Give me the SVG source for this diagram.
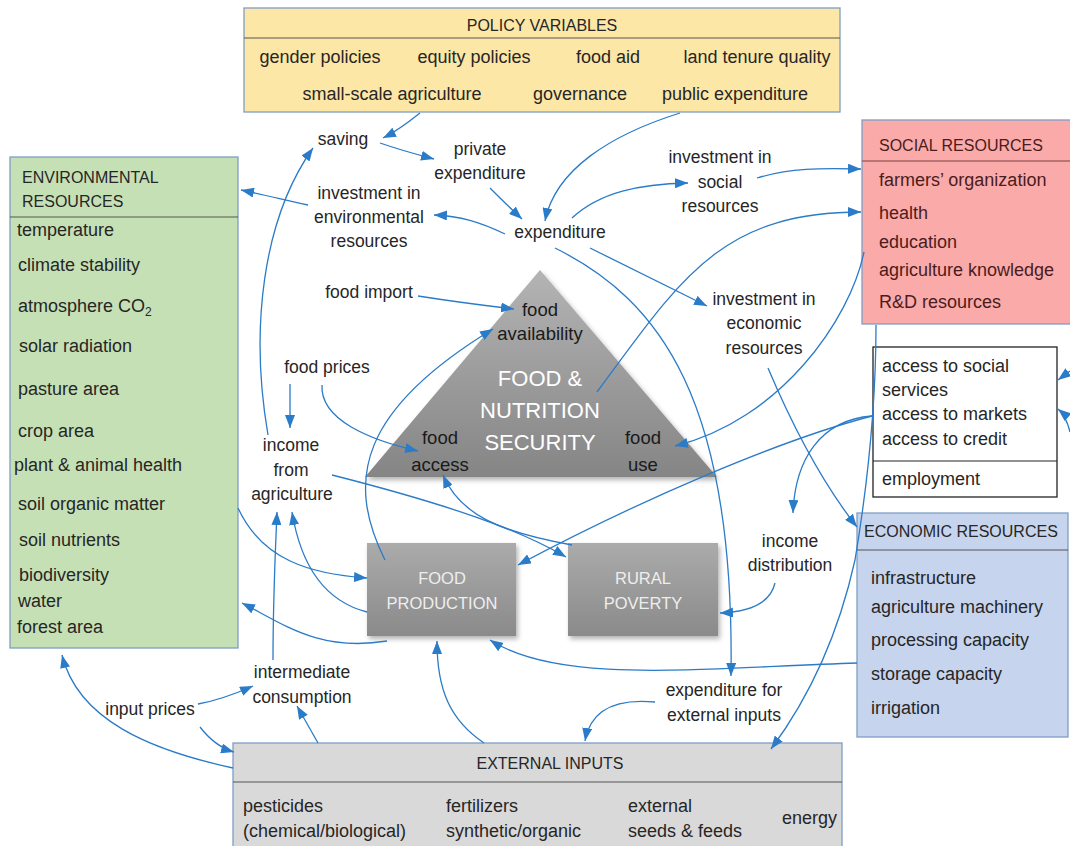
<svg xmlns="http://www.w3.org/2000/svg" width="1070" height="846" viewBox="0 0 1070 846">
<defs>
<style>
text{font-family:"Liberation Sans",Arial,sans-serif;fill:#262626}
.lbl{font-size:17.5px;text-anchor:middle}
.item{font-size:18px}
.hdr{font-size:16px}
.pol{font-size:18px;text-anchor:middle}
.soc{fill:#4a1c1c}
.white{fill:#ffffff;text-anchor:middle;font-size:22px}
.pw{fill:#eeeeee;text-anchor:middle;font-size:16.5px}
.dark{fill:#1a1a1a;text-anchor:middle;font-size:18.5px}
.box{stroke:#7f9dc6;stroke-width:1.3}
.sep{stroke:#555;stroke-width:1.2}
.conn path{fill:none;stroke:#2a7bc8;stroke-width:1.3;marker-end:url(#ah)}
</style>
<marker id="ah" markerUnits="userSpaceOnUse" markerWidth="14" markerHeight="10" refX="13" refY="5" orient="auto">
<path d="M0,0 L13,5 L0,10 z" fill="#2a7bc8"/>
</marker>
<linearGradient id="tri" x1="0" y1="0" x2="0" y2="1">
<stop offset="0" stop-color="#b4b4b4"/>
<stop offset="1" stop-color="#858585"/>
</linearGradient>
<linearGradient id="gbox" x1="0" y1="0" x2="0" y2="1">
<stop offset="0" stop-color="#ababab"/>
<stop offset="1" stop-color="#8a8a8a"/>
</linearGradient>
<filter id="sh" x="-10%" y="-10%" width="125%" height="125%">
<feDropShadow dx="2" dy="3" stdDeviation="2.5" flood-color="#000" flood-opacity="0.3"/>
</filter>
</defs>
<rect width="1070" height="846" fill="#ffffff"/>

<g id="policy-variables">
<rect x="244" y="8" width="596" height="104" fill="#fde7a7" class="box"/>
<line x1="244" y1="38" x2="840" y2="38" class="sep"/>
<text x="542" y="31" class="hdr" text-anchor="middle">POLICY VARIABLES</text>
<text x="320" y="63" class="pol">gender policies</text>
<text x="474" y="63" class="pol">equity policies</text>
<text x="608" y="63" class="pol">food aid</text>
<text x="757" y="63" class="pol">land tenure quality</text>
<text x="392" y="100" class="pol">small-scale agriculture</text>
<text x="580" y="100" class="pol">governance</text>
<text x="735" y="100" class="pol">public expenditure</text>
</g>

<g id="environmental-resources">
<rect x="10" y="157" width="228" height="491" fill="#c6e0b5" class="box"/>
<line x1="10" y1="217" x2="238" y2="217" class="sep"/>
<text x="22" y="183" class="hdr">ENVIRONMENTAL</text>
<text x="22" y="207" class="hdr">RESOURCES</text>
<text x="17" y="236" class="item">temperature</text>
<text x="18" y="271" class="item">climate stability</text>
<text x="18" y="312" class="item">atmosphere CO<tspan font-size="12" dy="4">2</tspan></text>
<text x="19" y="352" class="item">solar radiation</text>
<text x="18" y="395" class="item">pasture area</text>
<text x="18" y="437" class="item">crop area</text>
<text x="14" y="471" class="item">plant &amp; animal health</text>
<text x="18" y="510" class="item">soil organic matter</text>
<text x="19" y="546" class="item">soil nutrients</text>
<text x="19" y="581" class="item">biodiversity</text>
<text x="18" y="607" class="item">water</text>
<text x="17" y="633" class="item">forest area</text>
</g>

<g id="social-resources">
<rect x="862" y="120" width="212" height="204" fill="#fbaaaa" class="box"/>
<line x1="862" y1="161" x2="1070" y2="161" stroke="#7a4040" stroke-width="1.2"/>
<text x="879" y="151" class="hdr soc" font-size="15.5">SOCIAL RESOURCES</text>
<text x="879" y="186" class="item soc">farmers’ organization</text>
<text x="879" y="219" class="item soc">health</text>
<text x="879" y="248" class="item soc">education</text>
<text x="879" y="276" class="item soc">agriculture knowledge</text>
<text x="879" y="308" class="item soc">R&amp;D resources</text>
</g>

<g id="access">
<rect x="873" y="347" width="184" height="150" fill="#ffffff" stroke="#222" stroke-width="1.3"/>
<line x1="873" y1="461" x2="1057" y2="461" stroke="#222" stroke-width="1.2"/>
<text x="882" y="372" class="item" font-size="17">access to social</text>
<text x="882" y="396" class="item" font-size="17">services</text>
<text x="882" y="420" class="item" font-size="17">access to markets</text>
<text x="882" y="445" class="item" font-size="17">access to credit</text>
<text x="882" y="485" class="item" font-size="17">employment</text>
</g>

<g id="economic-resources">
<rect x="857" y="513" width="211" height="224" fill="#c7d4ed" class="box"/>
<line x1="857" y1="550" x2="1068" y2="550" class="sep"/>
<text x="864" y="537" class="hdr">ECONOMIC RESOURCES</text>
<text x="871" y="584" class="item">infrastructure</text>
<text x="871" y="613" class="item">agriculture machinery</text>
<text x="871" y="646" class="item">processing capacity</text>
<text x="871" y="680" class="item">storage capacity</text>
<text x="871" y="714" class="item">irrigation</text>
</g>

<g id="external-inputs">
<rect x="233" y="743" width="609" height="110" fill="#d9d9d9" class="box"/>
<line x1="233" y1="782" x2="842" y2="782" class="sep"/>
<text x="550" y="769" class="hdr" text-anchor="middle">EXTERNAL INPUTS</text>
<text x="243" y="812" class="item" font-size="17.5">pesticides</text>
<text x="243" y="837" class="item" font-size="17.5">(chemical/biological)</text>
<text x="446" y="812" class="item" font-size="17.5">fertilizers</text>
<text x="446" y="837" class="item" font-size="17.5">synthetic/organic</text>
<text x="628" y="812" class="item" font-size="17.5">external</text>
<text x="628" y="837" class="item" font-size="17.5">seeds &amp; feeds</text>
<text x="782" y="824" class="item" font-size="17.5">energy</text>
</g>

<g id="food-nutrition-security">
<polygon points="540,270 717,477 365,477" fill="url(#tri)" filter="url(#sh)"/>
<text x="540" y="316" class="dark">food</text>
<text x="540" y="340" class="dark">availability</text>
<text x="540" y="386" class="white">FOOD &amp;</text>
<text x="540" y="418" class="white">NUTRITION</text>
<text x="540" y="450" class="white">SECURITY</text>
<text x="440" y="444" class="dark">food</text>
<text x="440" y="471" class="dark">access</text>
<text x="643" y="444" class="dark">food</text>
<text x="643" y="471" class="dark">use</text>
</g>

<g id="food-production">
<rect x="367" y="543" width="149" height="93" fill="url(#gbox)" filter="url(#sh)"/>
<text x="442" y="584" class="pw">FOOD</text>
<text x="442" y="609" class="pw">PRODUCTION</text>
</g>

<g id="rural-poverty">
<rect x="568" y="543" width="150" height="93" fill="url(#gbox)" filter="url(#sh)"/>
<text x="643" y="584" class="pw">RURAL</text>
<text x="643" y="609" class="pw">POVERTY</text>
</g>

<g id="labels">
<text x="343" y="145" class="lbl">saving</text>
<text x="480" y="155" class="lbl">private</text>
<text x="480" y="179" class="lbl">expenditure</text>
<text x="369" y="199" class="lbl">investment in</text>
<text x="369" y="223" class="lbl">environmental</text>
<text x="369" y="247" class="lbl">resources</text>
<text x="560" y="238" class="lbl">expenditure</text>
<text x="720" y="163" class="lbl">investment in</text>
<text x="720" y="188" class="lbl">social</text>
<text x="720" y="212" class="lbl">resources</text>
<text x="369" y="298" class="lbl">food import</text>
<text x="764" y="305" class="lbl">investment in</text>
<text x="764" y="329" class="lbl">economic</text>
<text x="764" y="354" class="lbl">resources</text>
<text x="327" y="373" class="lbl">food prices</text>
<text x="291" y="451" class="lbl">income</text>
<text x="291" y="476" class="lbl">from</text>
<text x="292" y="500" class="lbl">agriculture</text>
<text x="790" y="547" class="lbl">income</text>
<text x="790" y="571" class="lbl">distribution</text>
<text x="302" y="678" class="lbl">intermediate</text>
<text x="302" y="703" class="lbl">consumption</text>
<text x="150" y="715" class="lbl">input prices</text>
<text x="724" y="696" class="lbl">expenditure for</text>
<text x="724" y="721" class="lbl">external inputs</text>
</g>

<g id="connectors" class="conn">
<path d="M 420 113 C 405 125, 395 132, 383 138"/>
<path d="M 380 143 C 400 150, 415 154, 434 159"/>
<path d="M 490 188 C 500 198, 510 208, 522 219"/>
<path d="M 680 113 C 610 135, 555 170, 545 221"/>
<path d="M 505 234 C 480 222, 460 216, 434 215"/>
<path d="M 308 205 C 285 200, 265 195, 241 190"/>
<path d="M 572 218 C 600 192, 640 184, 688 183"/>
<path d="M 757 178 C 790 168, 820 168, 861 169"/>
<path d="M 590 248 C 630 268, 670 288, 707 306"/>
<path d="M 555 248 C 660 300, 735 400, 731 676"/>
<path d="M 768 368 C 790 420, 820 480, 857 527"/>
<path d="M 864 252 C 850 320, 780 420, 675 446"/>
<path d="M 597 392 C 680 280, 720 212, 861 212"/>
<path d="M 876 325 C 876 420, 865 500, 855 560 C 835 650, 800 710, 771 749"/>
<path d="M 872 416 C 820 420, 795 460, 793 513"/>
<path d="M 872 416 C 780 440, 640 500, 518 565"/>
<path d="M 857 663 C 700 668, 560 685, 490 640"/>
<path d="M 775 583 C 770 605, 745 612, 720 613"/>
<path d="M 655 702 C 612 698, 590 712, 585 741"/>
<path d="M 418 296 C 450 301, 480 305, 514 309"/>
<path d="M 273 660 C 273 600, 275 560, 277 512"/>
<path d="M 367 612 C 320 600, 300 560, 292 512"/>
<path d="M 385 560 C 345 480, 360 410, 493 329"/>
<path d="M 290 384 L 290 428"/>
<path d="M 322 385 C 320 420, 370 440, 418 451"/>
<path d="M 332 475 C 450 505, 520 530, 566 557"/>
<path d="M 572 545 C 500 532, 460 515, 443 475"/>
<path d="M 268 435 C 250 330, 262 220, 313 148"/>
<path d="M 238 508 C 262 560, 310 574, 367 578"/>
<path d="M 387 641 C 320 652, 285 625, 242 603"/>
<path d="M 233 768 C 150 750, 78 720, 62 655"/>
<path d="M 198 704 C 220 700, 235 694, 253 686"/>
<path d="M 200 727 C 210 740, 220 748, 234 752"/>
<path d="M 318 743 L 297 706"/>
<path d="M 484 743 C 450 720, 437 690, 437 641"/>
<path d="M 1070 371 L 1058 380"/>
<path d="M 1070 432 C 1067 420, 1064 414, 1058 409"/>
</g>
</svg>
